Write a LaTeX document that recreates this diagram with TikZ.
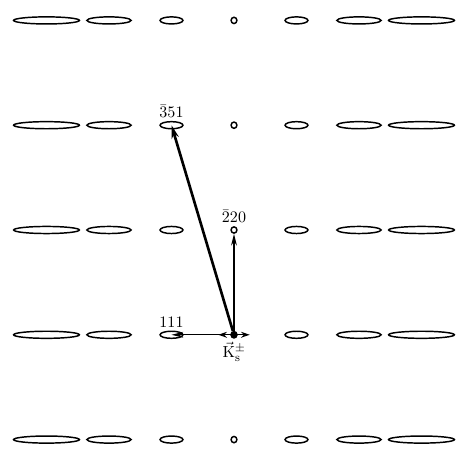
\documentclass[tikz,border=0pt]{standalone}
\usetikzlibrary{positioning, arrows.meta, shapes.geometric}
\usepackage{amsmath, amssymb}

\begin{document}
\begin{tikzpicture}[
    x=1.5cm, y=2.515cm,
    % Styles for lattice spots, labels and wave vectors
    spot/.style={ellipse, draw=black, line width=1pt, inner sep=0pt, minimum height=0.17cm},
    origin/.style={circle, fill=black, inner sep=0pt, minimum size=0.17cm},
    index/.style={inner sep=1pt, font=\fontsize{11}{13}\selectfont},
    kvec/.style={-{Stealth[length=8pt, width=4pt]}, line width=0.9pt},
    kbig/.style={-{Stealth[length=9pt, width=5pt]}, line width=1.8pt},
    kpm/.style={{Stealth[length=6pt, width=4pt]}-{Stealth[length=6pt, width=4pt]}, line width=0.9pt}
]
  \useasboundingbox (-5.616cm,-5.328cm) rectangle (5.472cm,5.52cm);

  % --- LATTICE OF SPOTS ---
  \foreach \c/\x/\w/\h in {a/-3/1.58cm/0.17cm, b/-2/1.06cm/0.17cm, c/-1/0.55cm/0.17cm, d/0/0.14cm/0.15cm,
                           e/1/0.55cm/0.17cm, f/2/1.06cm/0.17cm, g/3/1.58cm/0.17cm}
    \foreach \r/\y in {1/2, 2/1, 3/0, 4/-1, 5/-2}
      \node[spot, minimum width=\w, minimum height=\h] (\c\r) at (\x,\y) {};

  % --- ORIGIN ---
  \node[origin] (K) at (d4) {};

  % --- INDEX LABELS ---
  \node[index, above=1pt of c2] (l351) {$\bar{3}51$};
  \node[index, above=1pt of d3] (l220) {$\bar{2}20$};
  \node[index, above=1pt of c4] (l111) {$111$};
  \node[index, below=1pt of K] (lK) {$\vec{\mathrm{K}}_{\mathrm{s}}^{\pm}$};

  % --- WAVE VECTORS ---
  \draw[kbig] (K) -- (c2.center);
  \draw[kvec] (K) -- (d3);
  \draw[kvec] (K) -- (c4.center);

  \coordinate[left=0.38cm of K.center] (Kl);
  \coordinate[right=0.38cm of K.center] (Kr);
  \draw[kpm] (Kl) -- (Kr);

\end{tikzpicture}
\end{document}
